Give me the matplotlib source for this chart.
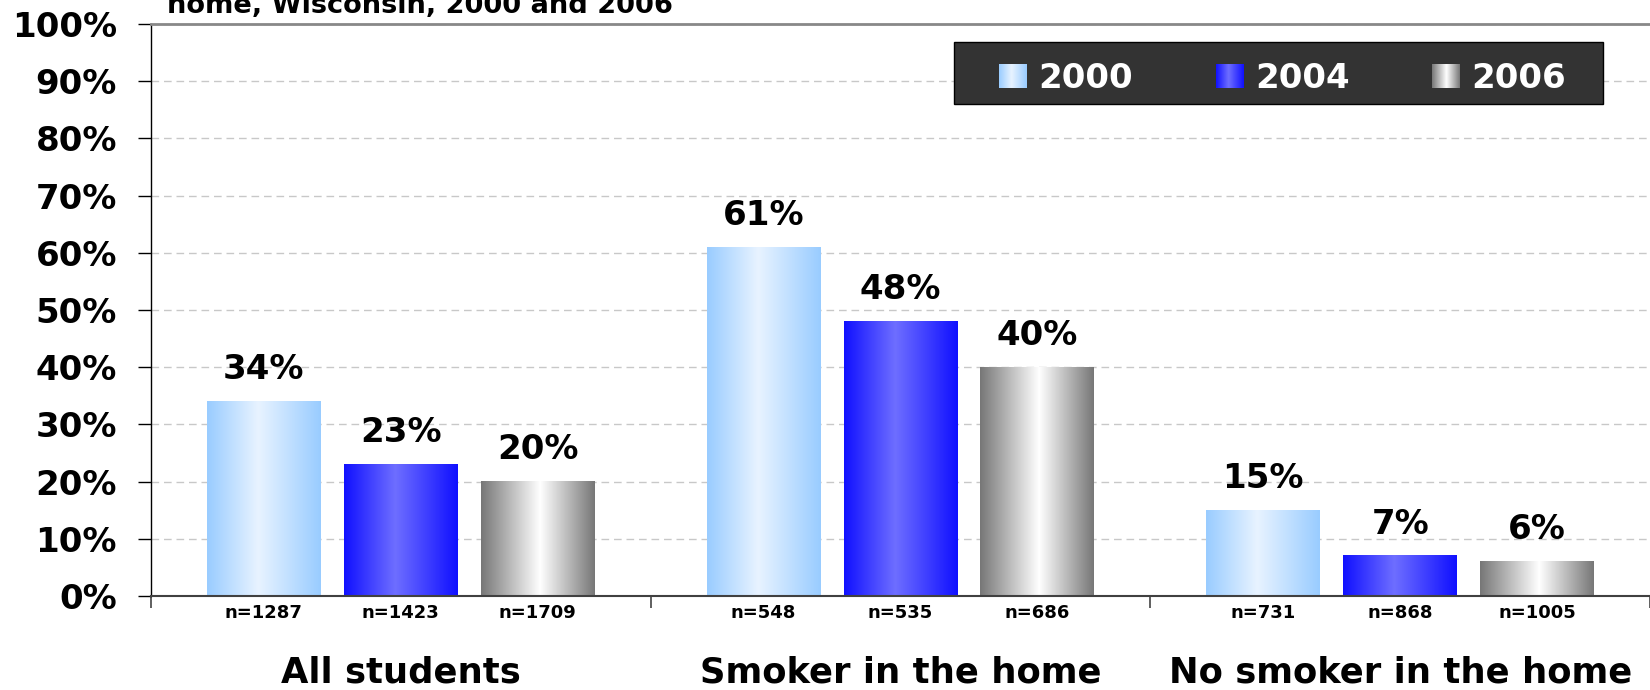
import numpy as np
import matplotlib
matplotlib.use('Agg')
import matplotlib.pyplot as plt
from matplotlib.colors import LinearSegmentedColormap
from matplotlib.patches import Rectangle
from matplotlib import transforms

groups = ['All students', 'Smoker in the home', 'No smoker in the home']
years = ['2000', '2004', '2006']
pct_2000 = [34, 61, 15]
pct_2004 = [23, 48, 7]
pct_2006 = [20, 40, 6]
n_2000 = [1287, 548, 731]
n_2004 = [1423, 535, 868]
n_2006 = [1709, 686, 1005]

values = [pct_2000, pct_2004, pct_2006]
counts = [n_2000, n_2004, n_2006]

# shaded fills, edge -> highlight -> edge
cmaps = [
    LinearSegmentedColormap.from_list('c2000', [(0, '#99CCFF'), (0.45, '#E8F3FF'), (1, '#99CCFF')]),
    LinearSegmentedColormap.from_list('c2004', [(0, '#1010FF'), (0.45, '#6E6EFF'), (1, '#1010FF')]),
    LinearSegmentedColormap.from_list('c2006', [(0, '#777777'), (0.52, '#FFFFFF'), (1, '#777777')]),
]
grad = np.linspace(0, 1, 256).reshape(1, -1)

W, H = 1650, 690
fig = plt.figure(figsize=(W / 100, H / 100), dpi=100)
ax = fig.add_axes([151 / W, 94 / H, 1 - 151 / W, 572 / H])

x = np.arange(len(groups))
offset = 0.274
width = 0.228
bold = dict(fontweight='bold', color='black')

for i in range(3):
    bars = ax.bar(x + (i - 1) * offset, values[i], width, color='none', edgecolor='none', zorder=2)
    for b, v in zip(bars, values[i]):
        x0 = b.get_x()
        ax.imshow(grad, extent=[x0, x0 + b.get_width(), 0, b.get_height()],
                  aspect='auto', cmap=cmaps[i], origin='lower', zorder=2, interpolation='bilinear')
        ax.annotate(f'{v}%', (x0 + b.get_width() / 2, v), xytext=(0, 16),
                    textcoords='offset points', ha='center', va='baseline', fontsize=24.5, **bold)

ax.set_xlim(-0.5, 2.5)
ax.set_ylim(0, 100)
ax.set_aspect('auto')

# y axis
ax.set_yticks(np.arange(0, 101, 10))
ax.set_yticklabels([f'{t}%' for t in range(0, 101, 10)], fontsize=24.5, fontweight='bold')
ax.tick_params(axis='y', direction='out', length=9.5, width=1, color='black', pad=15)
ax.yaxis.grid(True, color='#c8c8c8', lw=1, linestyle=(0, (5.5, 3.5)))
ax.set_axisbelow(True)

# category separators on the x axis
ax.set_xticks([-0.5, 0.5, 1.5, 2.5])
ax.set_xticklabels([])
ax.tick_params(axis='x', direction='out', length=8.5, width=1.2, color='#444444')

ax.spines['right'].set_visible(False)
ax.spines['top'].set_color('#888888')
ax.spines['top'].set_linewidth(2)
ax.spines['left'].set_color('black')
ax.spines['left'].set_linewidth(1)
ax.spines['bottom'].set_color('#404040')
ax.spines['bottom'].set_linewidth(1.5)

trans = transforms.blended_transform_factory(ax.transData, ax.transAxes)
for i in range(3):
    for g in range(3):
        ax.text(g + (i - 1) * offset, -0.030, f'n={counts[i][g]}', transform=trans,
                ha='center', va='center', fontsize=13, **bold)
for g, name in enumerate(groups):
    ax.text(g, -0.152, name, transform=trans, ha='center', va='baseline',
            fontsize=25.5, **bold)

# title line (top of the heading runs off the figure)
fig.text(167 / W, 1 - 13 / H, 'home, Wisconsin, 2000 and 2006', ha='left', va='baseline',
         fontsize=19.6, **bold)

# legend box
fig.add_artist(Rectangle((954 / W, (H - 104) / H), 649 / W, 62 / H, transform=fig.transFigure,
                         facecolor='#333333', edgecolor='black', lw=1, zorder=5))
sw_x = [999, 1216, 1432]
for i, yr in enumerate(years):
    sax = fig.add_axes([sw_x[i] / W, (H - 88) / H, 28 / W, 24 / H], zorder=6)
    sax.imshow(grad, aspect='auto', cmap=cmaps[i], interpolation='bilinear')
    sax.axis('off')
    fig.text((sw_x[i] + 39) / W, (H - 88) / H, yr, ha='left', va='baseline',
             fontsize=24.5, fontweight='bold', color='white', zorder=7)

fig.savefig('out.png', dpi=100)
